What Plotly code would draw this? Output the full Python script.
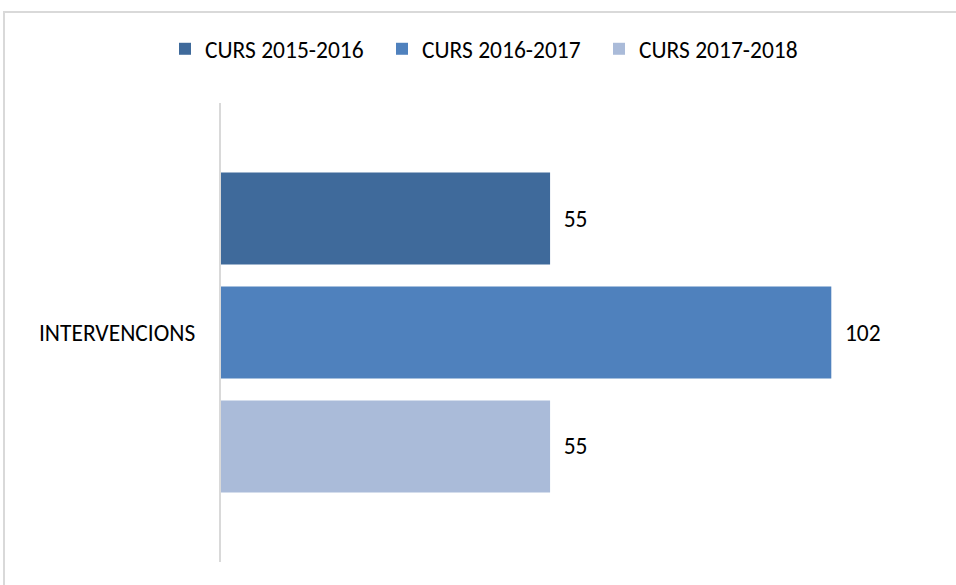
import plotly.graph_objects as go

categories = ["INTERVENCIONS"]
series_names = ["CURS 2015-2016", "CURS 2016-2017", "CURS 2017-2018"]
values_2015_2016 = [55]
values_2016_2017 = [102]
values_2017_2018 = [55]
series_values = [values_2015_2016, values_2016_2017, values_2017_2018]
colors = ["#3F6A9B", "#4F81BD", "#AABBD9"]

FONT = "Calibri, Carlito, Lato, sans-serif"
FS = 23.5

fig = go.Figure()
for name, vals, col in zip(series_names, series_values, colors):
    fig.add_trace(go.Bar(
        y=categories, x=vals, name=name, orientation="h",
        marker=dict(color=col, line=dict(width=0)),
        text=vals, texttemplate="\u00a0\u00a0%{x}", textposition="outside",
        textfont=dict(family=FONT, size=FS, color="#000000"),
        cliponaxis=False,
    ))

fig.update_layout(
    width=956, height=585,
    margin=dict(l=221, r=17, t=103, b=23),
    paper_bgcolor="white", plot_bgcolor="white",
    barmode="group", bargap=0.255, bargroupgap=0.193,
    font=dict(family=FONT, size=FS, color="#000000"),
    showlegend=True,
    legend=dict(
        orientation="h", xref="container", yref="container",
        x=165 / 956, xanchor="left", y=1 - 49 / 585, yanchor="middle",
        font=dict(family=FONT, size=FS, color="#000000"),
        entrywidth=172, entrywidthmode="pixels",
        traceorder="normal",
    ),
    xaxis=dict(range=[0, 120], visible=False, showgrid=False, zeroline=False, fixedrange=True),
    yaxis=dict(
        autorange="reversed", showgrid=False, zeroline=False,
        showline=True, linecolor="#D9D9D9", linewidth=2,
        ticks="", ticklabelstandoff=19,
        tickfont=dict(family=FONT, size=FS, color="#000000"),
    ),
    shapes=[dict(
        type="rect", xref="paper", yref="paper",
        x0=(4 - 221) / 718, x1=1.2, y0=-0.3, y1=1 + (103 - 12) / 459,
        line=dict(color="#D9D9D9", width=2), fillcolor="rgba(0,0,0,0)", layer="below",
    )],
)

fig.write_html(
    "out.html",
    config={"displayModeBar": False},
    post_script="document.body.style.margin='0';document.body.style.overflow='hidden';",
)
